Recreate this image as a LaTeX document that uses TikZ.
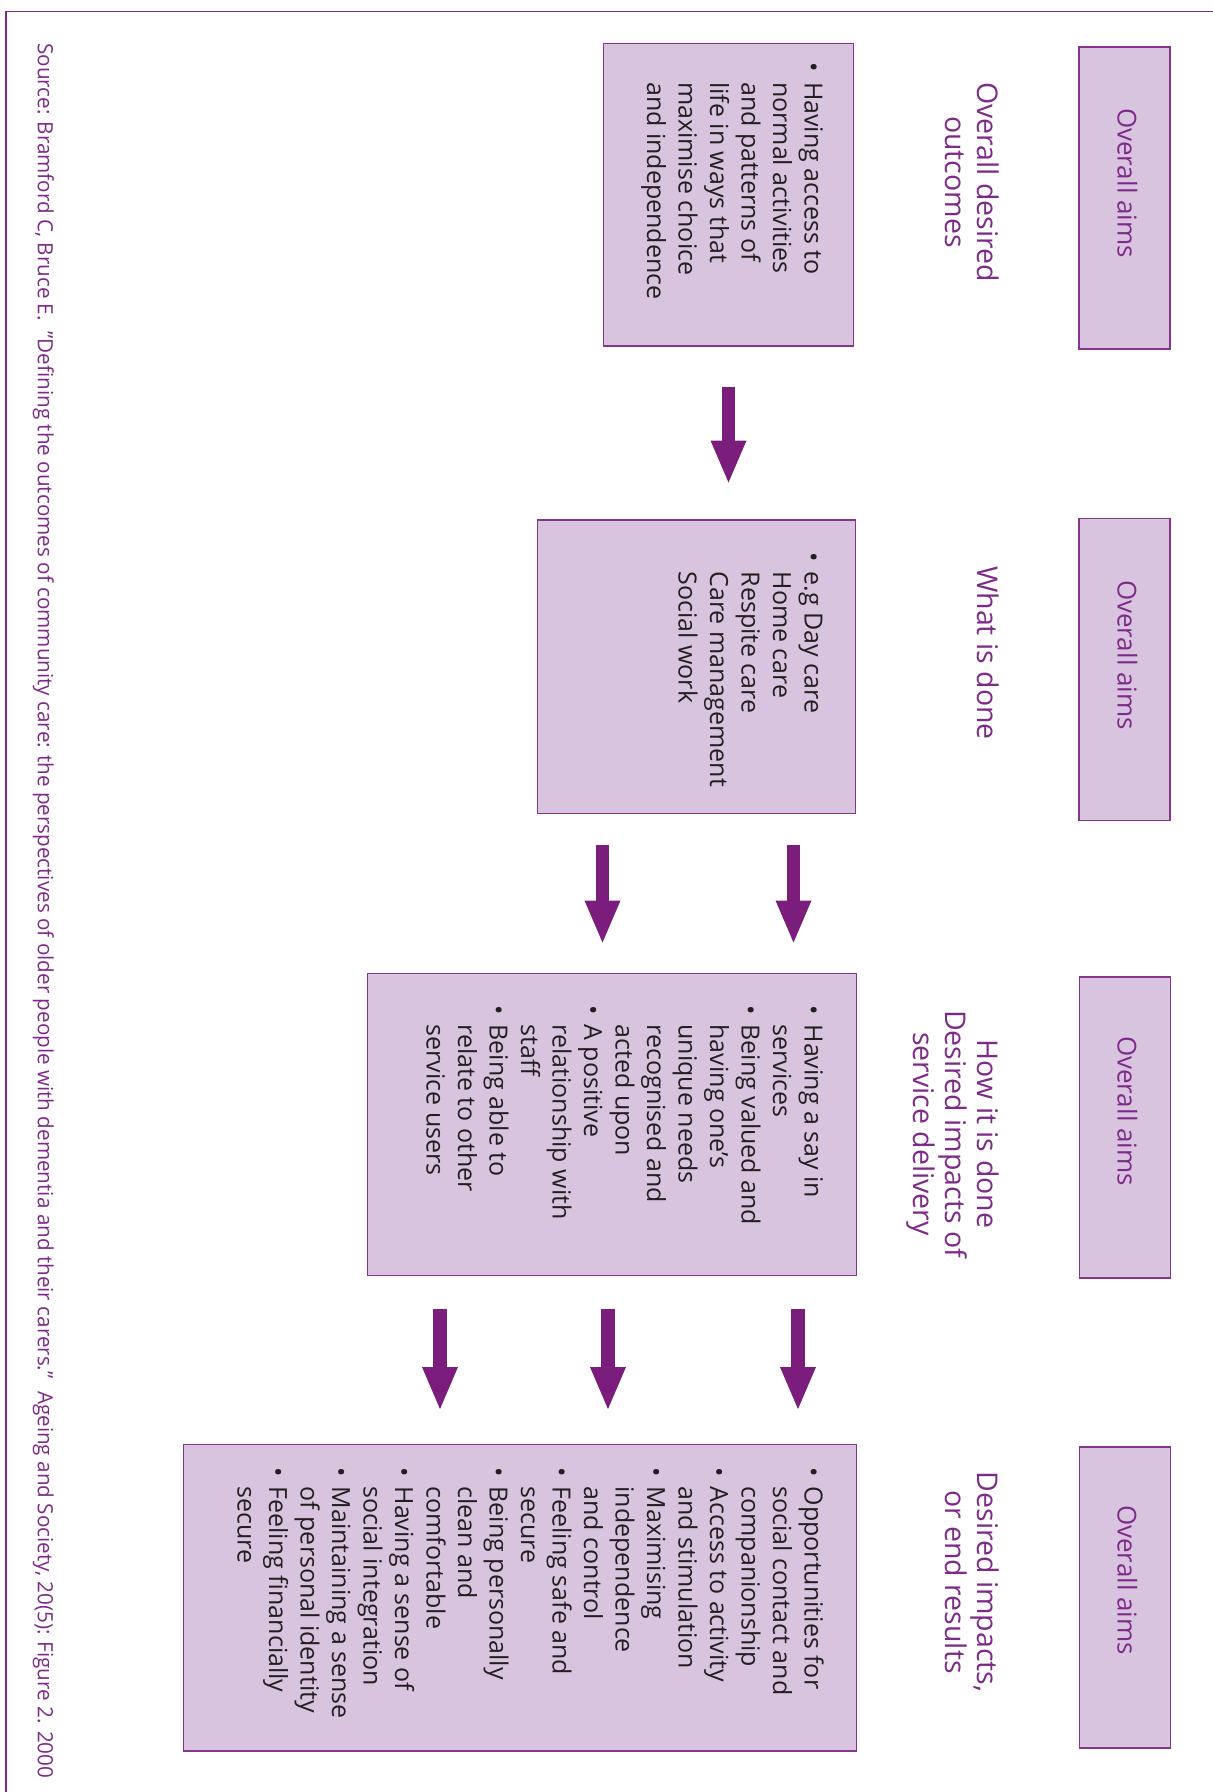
\documentclass[tikz,border=0pt]{standalone}
\usepackage{fontspec}
\setmainfont{Open Sans}
\usepackage{graphicx}
\usetikzlibrary{arrows.meta}
\definecolor{boxfill}{HTML}{D8C4DE}
\definecolor{boxline}{HTML}{86348C}
\definecolor{arrowpurple}{HTML}{7A1D7D}
\definecolor{labelpurple}{HTML}{7E2A89}
\definecolor{bodytext}{HTML}{231F20}
\begin{document}
\begin{tikzpicture}[x=1pt,y=-1pt,
  panel/.style={draw=boxline, line width=1.5pt, fill=boxfill, inner sep=0pt, outer sep=0pt, anchor=north west},
  bigarrow/.style={draw=arrowpurple, line width=13.5pt, -{Triangle[length=42pt,width=36pt,line width=0pt]}},
  bodytxt/.style={rotate=-90, anchor=north west, inner sep=0pt, font=\fontsize{25}{31.5}\selectfont, text=bodytext},
  lbltxt/.style={rotate=-90, anchor=north, inner sep=0pt, font=\fontsize{28.5}{32}\selectfont, text=labelpurple},
  aimtxt/.style={rotate=-90, anchor=base, inner sep=0pt, font=\fontsize{26}{31}\selectfont, text=labelpurple},
  srctxt/.style={rotate=-90, anchor=base west, inner sep=0pt, font=\fontsize{21}{25}\selectfont, text=labelpurple}
]
\useasboundingbox (0,0) rectangle (1213,1792);
% frame
\draw[labelpurple, line width=1.8pt] (1213,11.5) -- (5.7,11.5) -- (5.7,1792);

% overall aims boxes
\node[panel, minimum width=91pt, minimum height=302pt] (oa1) at (1079,47) {};
\node[panel, minimum width=91pt, minimum height=302pt] (oa2) at (1079,518.5) {};
\node[panel, minimum width=91pt, minimum height=301pt] (oa3) at (1079.5,977) {};
\node[panel, minimum width=91pt, minimum height=301pt] (oa4) at (1079.5,1447) {};
\node[aimtxt] (t1) at (1117.5,183) {Overall aims};
\node[aimtxt] (t2) at (1117.5,655) {Overall aims};
\node[aimtxt] (t3) at (1117.5,1111) {Overall aims};
\node[aimtxt] (t4) at (1117.5,1580) {Overall aims};

% section labels
\node[lbltxt] (l1) at (999.7,182) {\begin{tabular}{@{}c@{}}Overall desired\\outcomes\end{tabular}};
\node[lbltxt] (l2) at (999.7,653) {\begin{tabular}{@{}c@{}}What is done\end{tabular}};
\node[lbltxt] (l3) at (999.7,1134) {\begin{tabular}{@{}c@{}}How it is done\\Desired impacts of\\service delivery\end{tabular}};
\node[lbltxt] (l4) at (999.7,1582) {\begin{tabular}{@{}c@{}}Desired impacts,\\or end results\end{tabular}};

% main boxes
\node[panel, minimum width=250pt, minimum height=302.5pt] (b1) at (603.5,43.5) {};
\node[panel, minimum width=318pt, minimum height=293.5pt] (b2) at (537.5,520) {};
\node[panel, minimum width=489pt, minimum height=302pt] (b3) at (367.5,973.5) {};
\node[panel, minimum width=673pt, minimum height=306.5pt] (b4) at (183.5,1444.5) {};

\node[bodytxt] (x1) at (826.8,62.5) {\begin{tabular}{@{}l@{\hspace{10pt}}l@{}}
\textbullet & Having access to\\
 & normal activities\\
 & and patterns of\\
 & life in ways that\\
 & maximise choice\\
 & and independence
\end{tabular}};
\node[bodytxt] (x2) at (826.8,552) {\begin{tabular}{@{}l@{\hspace{10pt}}l@{}}
\textbullet & e.g Day care\\
 & Home care\\
 & Respite care\\
 & Care management\\
 & Social work
\end{tabular}};
\node[bodytxt] (x3) at (826.8,1005) {\begin{tabular}{@{}l@{\hspace{10pt}}l@{}}
\textbullet & Having a say in\\
 & services\\
\textbullet & Being valued and\\
 & having one’s\\
 & unique needs\\
 & recognised and\\
 & acted upon\\
\textbullet & A positive\\
 & relationship with\\
 & staff\\
\textbullet & Being able to\\
 & relate to other\\
 & service users
\end{tabular}};
\node[bodytxt] (x4) at (826.8,1467) {\begin{tabular}{@{}l@{\hspace{10pt}}l@{}}
\textbullet & Opportunities for\\
 & social contact and\\
 & companionship\\
\textbullet & Access to activity\\
 & and stimulation\\
\textbullet & Maximising\\
 & independence\\
 & and control\\
\textbullet & Feeling safe and\\
 & secure\\
\textbullet & Being personally\\
 & clean and\\
 & comfortable\\
\textbullet & Having a sense of\\
 & social integration\\
\textbullet & Maintaining a sense\\
 & of personal identity\\
\textbullet & Feeling financially\\
 & secure
\end{tabular}};

% arrows
\coordinate (c21) at (602.5,0);
\coordinate (c22) at (793.5,0);
\coordinate (c31) at (440,0);
\coordinate (c32) at (608,0);
\coordinate (c33) at (798,0);
\draw[bigarrow, shorten <=40.5pt, shorten >=37.5pt] (b1.south) -- (b2.north -| b1.south);
\draw[bigarrow, shorten <=31pt, shorten >=31pt] (b2.south -| c21) -- (b3.north -| c21);
\draw[bigarrow, shorten <=31pt, shorten >=31pt] (b2.south -| c22) -- (b3.north -| c22);
\draw[bigarrow, shorten <=33pt, shorten >=35.5pt] (b3.south -| c31) -- (b4.north -| c31);
\draw[bigarrow, shorten <=33pt, shorten >=35.5pt] (b3.south -| c32) -- (b4.north -| c32);
\draw[bigarrow, shorten <=33pt, shorten >=35.5pt] (b3.south -| c33) -- (b4.north -| c33);

% source
\node[srctxt] (src) at (37.9,43) {\resizebox{1735pt}{\height}{Source: Bramford C, Bruce E.\ \ ”Defining the outcomes of community care: the perspectives of older people with dementia and their carers.” \ Ageing and Society, 20(5): Figure 2. 2000}};
\end{tikzpicture}
\end{document}
